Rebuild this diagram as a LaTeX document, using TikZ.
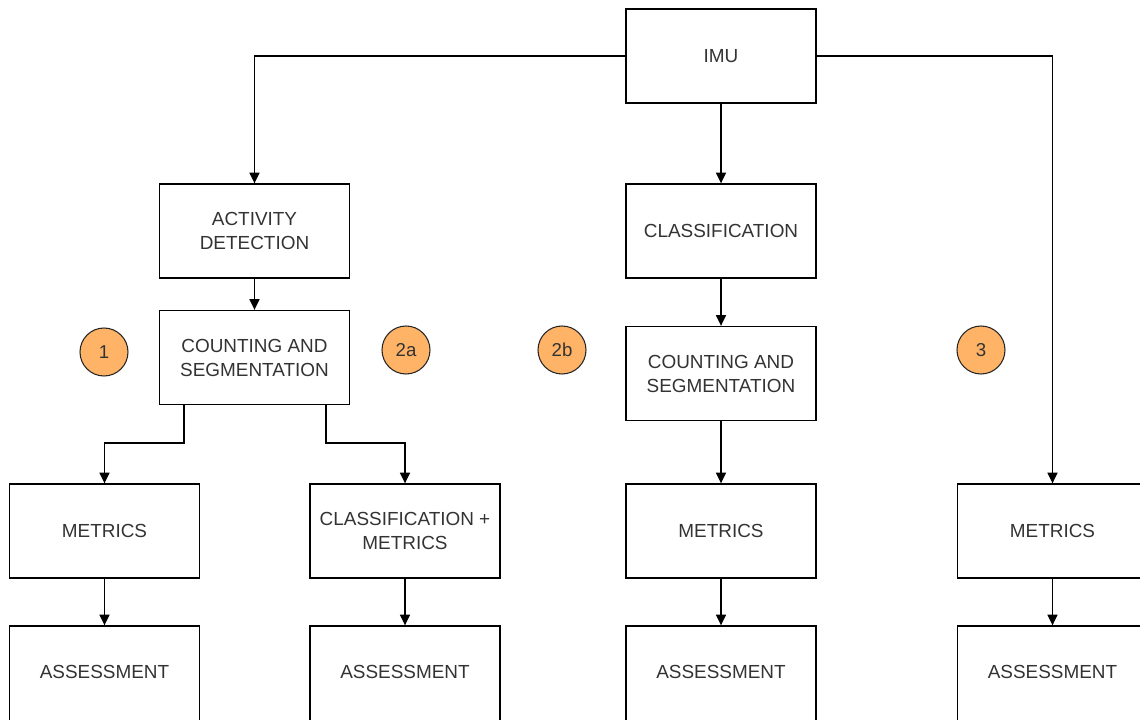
\documentclass[tikz,border=0pt]{standalone}
\usepackage{fontspec}
\setmainfont{Liberation Sans}
\usetikzlibrary{arrows.meta}
\definecolor{txt}{HTML}{333333}
\definecolor{badge}{HTML}{FFB366}
\newcommand{\boxfont}{\fontsize{14.2pt}{18pt}\selectfont}
\begin{document}
\begin{tikzpicture}[x=0.75pt,y=-0.75pt,
  box/.style={draw=black,line width=1pt,fill=white,minimum width=142.5pt,minimum height=70.5pt,
    inner sep=0pt,align=center,text=txt,font=\boxfont},
  boxlabel/.style={text=txt,font=\boxfont,inner sep=0pt},
  badgenode/.style={circle,draw=black!85,line width=0.8pt,fill=badge,minimum size=36pt,inner sep=0pt,
    text=txt,font=\fontsize{14pt}{16pt}\selectfont},
  link/.style={draw=black,line width=1pt,-{Triangle[length=8pt,width=7.5pt]}}]
\useasboundingbox (0,0) rectangle (1140,720);
\clip (0,0) rectangle (1140,720);

% source
\node[box] (imu) at (721,56) {IMU};

% branch 1 / 2a
\node[box] (act) at (254.5,231) {ACTIVITY\\DETECTION};
\node[box] (cntA) at (254.5,357.5) {COUNTING AND\\SEGMENTATION};
\node[box] (metA) at (104.5,531) {METRICS};
\node[box] (clsmet) at (405,531) {CLASSIFICATION +\\METRICS};
\node[box,minimum height=72pt] (assA) at (104.5,674) {};
\node[boxlabel] (assAt) at (104.5,672) {ASSESSMENT};
\node[box,minimum height=72pt] (assB) at (405,674) {};
\node[boxlabel] (assBt) at (405,672) {ASSESSMENT};

% branch 2b
\node[box] (cls) at (721,231) {CLASSIFICATION};
\node[box] (cntB) at (721,373.5) {COUNTING AND\\SEGMENTATION};
\node[box] (metB) at (721,531) {METRICS};
\node[box,minimum height=72pt] (assC) at (721,674) {};
\node[boxlabel] (assCt) at (721,672) {ASSESSMENT};

% branch 3
\node[box] (metC) at (1052.5,531) {METRICS};
\node[box,minimum height=72pt] (assD) at (1052.5,674) {};
\node[boxlabel] (assDt) at (1052.5,672) {ASSESSMENT};

% badges
\node[badgenode] (b1) at (104,352) {1};
\node[badgenode] (b2a) at (406,350) {2a};
\node[badgenode] (b2b) at (562,350) {2b};
\node[badgenode] (b3) at (981,350) {3};

% connectors
\draw[link] (imu.west) -| (act.north);
\draw[link] (imu.east) -| (metC.north);
\draw[link] (imu.south) -- (cls.north);
\draw[link] (act.south) -- (cntA.north);
\coordinate (cL) at (184,405);
\coordinate (cR) at (326,405);
\draw[link] (cL) -- (184,443) -| (metA.north);
\draw[link] (cR) -- (326,443) -| (clsmet.north);
\draw[link] (metA.south) -- (assA.north);
\draw[link] (clsmet.south) -- (assB.north);
\draw[link] (cls.south) -- (cntB.north);
\draw[link] (cntB.south) -- (metB.north);
\draw[link] (metB.south) -- (assC.north);
\draw[link] (metC.south) -- (assD.north);
\end{tikzpicture}
\end{document}
